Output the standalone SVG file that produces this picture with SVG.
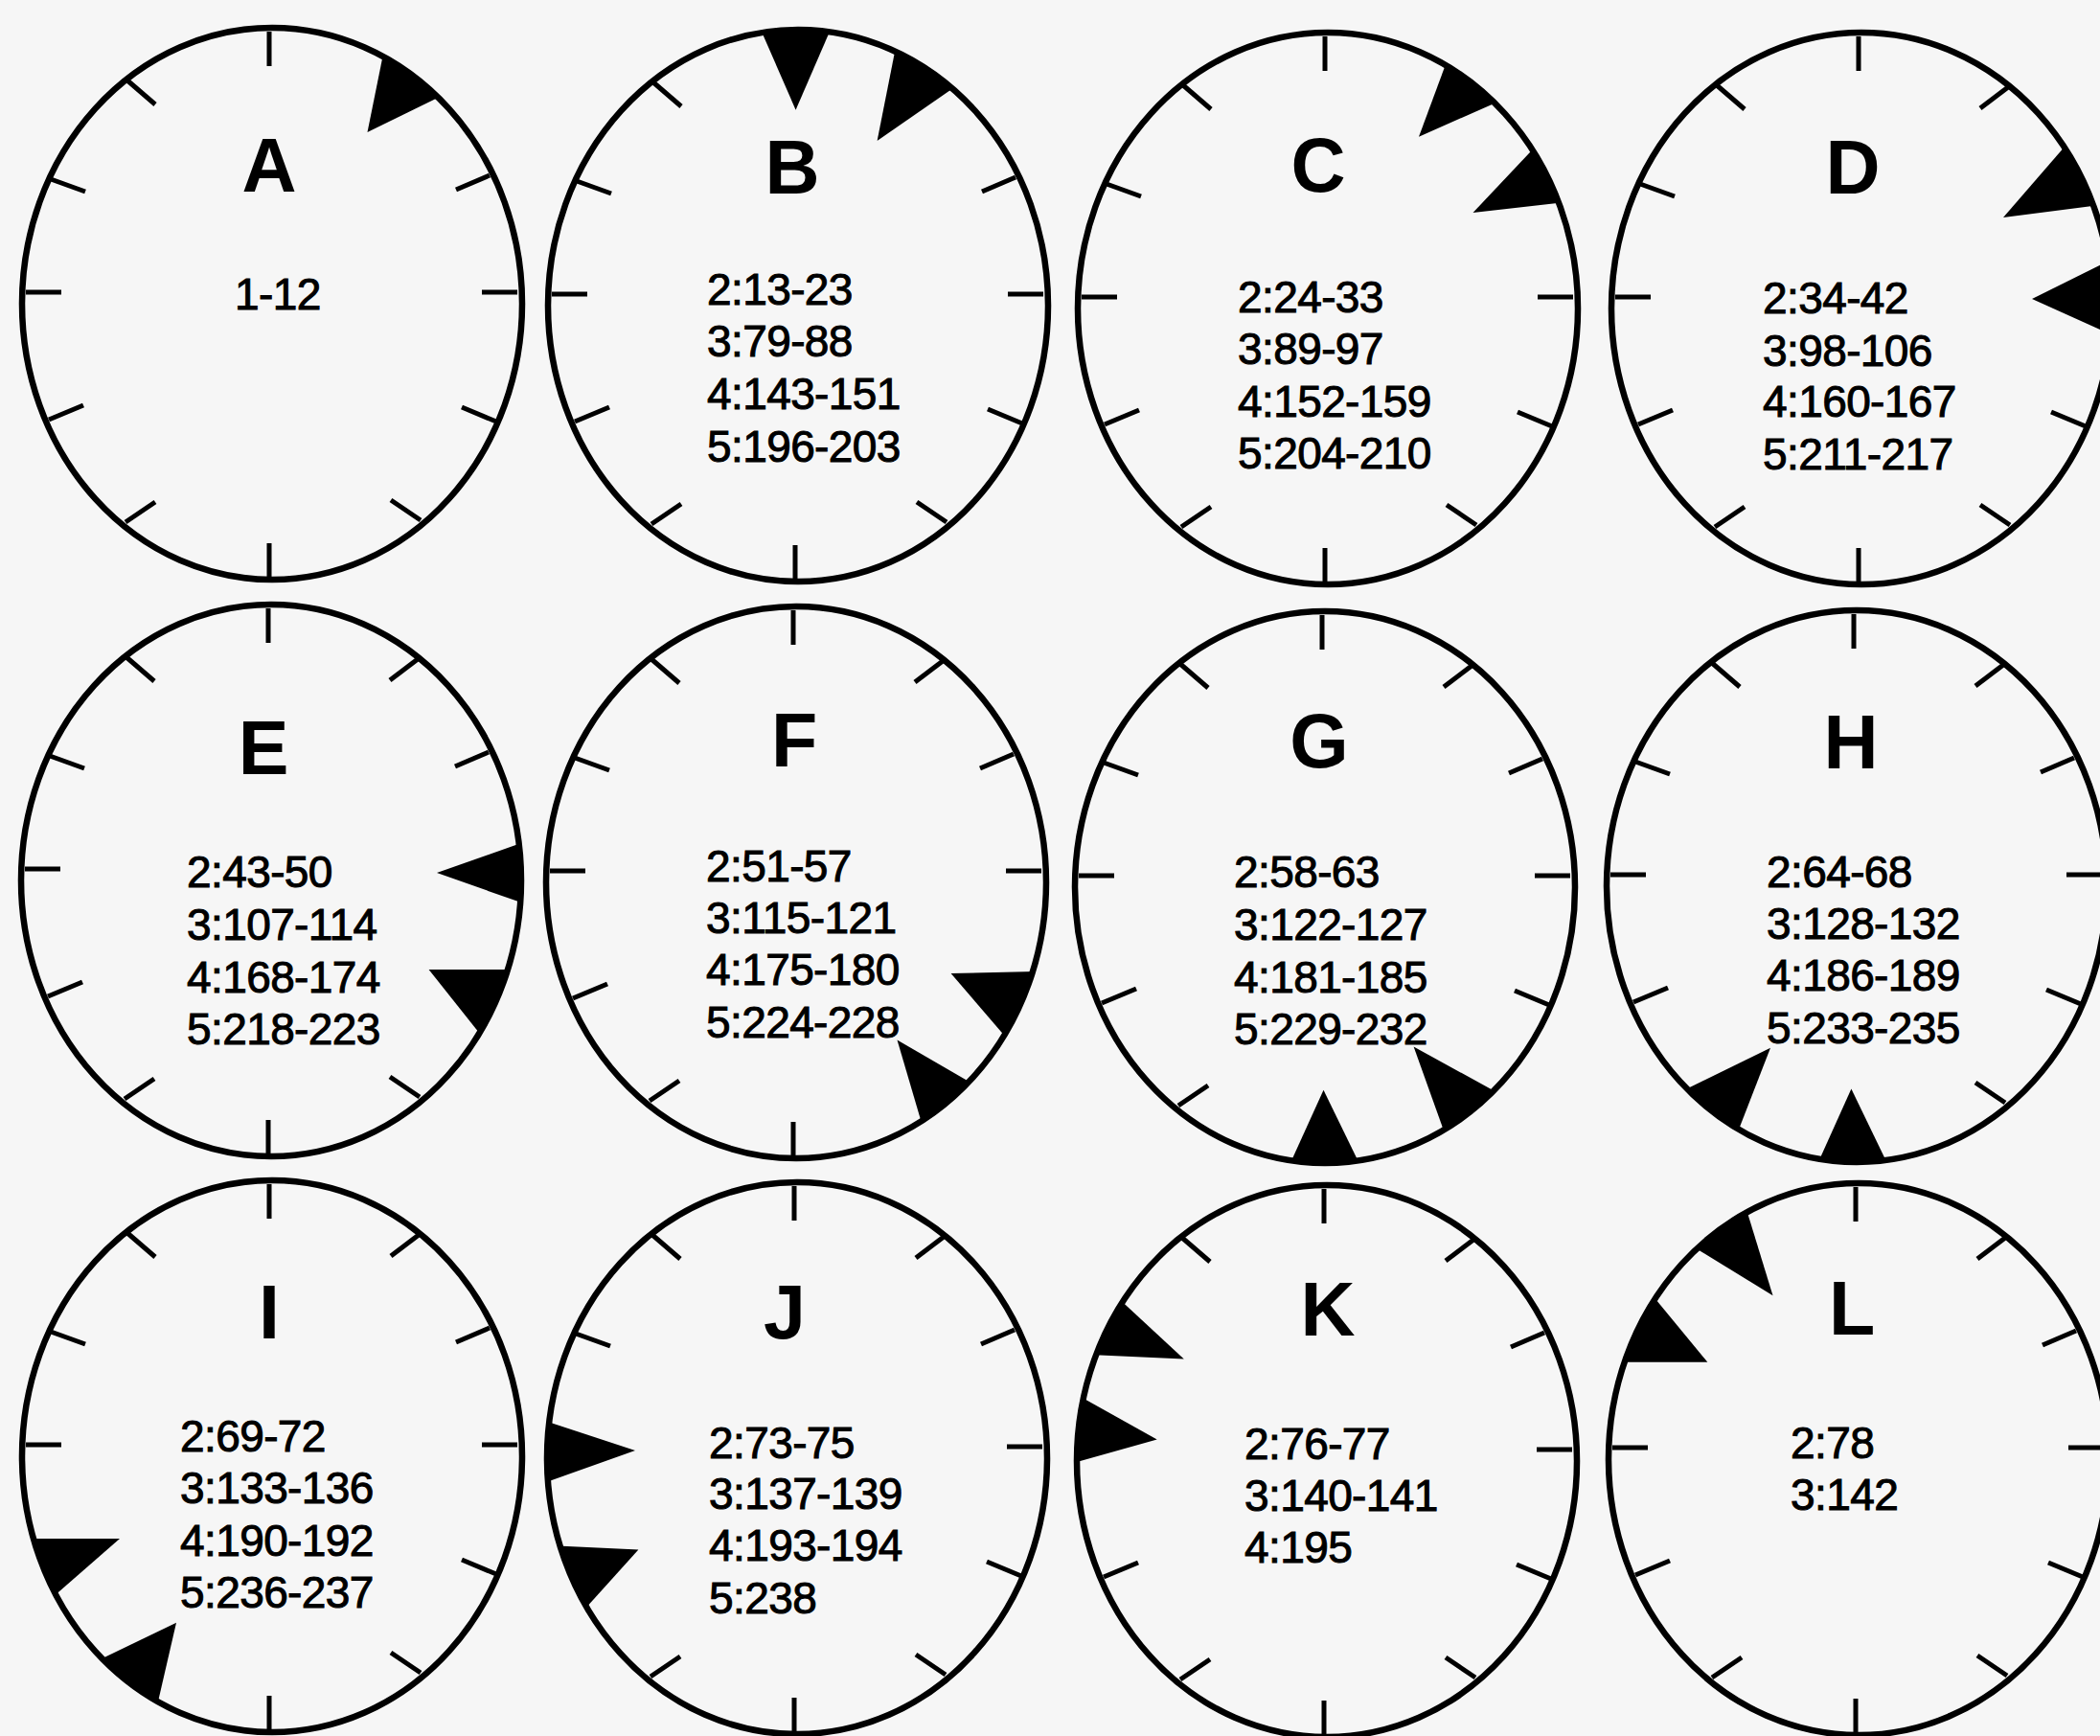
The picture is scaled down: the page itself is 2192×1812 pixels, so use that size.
<svg xmlns="http://www.w3.org/2000/svg" xmlns:xlink="http://www.w3.org/1999/xlink" width="2192" height="1812" viewBox="0 0 2192 1812">
<style>
.face{fill:none;stroke:#000;stroke-width:6.5}
.tick{fill:none;stroke:#000;stroke-width:5}
.wedge{fill:#000}
.letter{font-family:"Liberation Sans",Arial,sans-serif;font-weight:bold;font-size:79px;fill:#000;text-anchor:middle}
.num{font-family:"Liberation Sans",Arial,sans-serif;font-size:46px;letter-spacing:-0.6px;fill:#000;stroke:#000;stroke-width:1}
</style>
<defs>
<clipPath id="face-clip"><ellipse cx="0" cy="0" rx="261" ry="288"/></clipPath>
<path id="t12" class="tick" d="M-3,-284 V-248"/>
<path id="t1" class="tick" d="M153,-231 L124,-209"/>
<path id="t2" class="tick" d="M227,-134 L192,-119"/>
<path id="t3" class="tick" d="M256,-12 H219"/>
<path id="t4" class="tick" d="M234,123 L198,108"/>
<path id="t5" class="tick" d="M155,226 L124,205"/>
<path id="t6" class="tick" d="M-3,285 V250"/>
<path id="t7" class="tick" d="M-153,228 L-122,207"/>
<path id="t8" class="tick" d="M-233,121 L-197,106"/>
<path id="t9" class="tick" d="M-257,-12 H-220"/>
<path id="t10" class="tick" d="M-231,-130 L-195,-117"/>
<path id="t11" class="tick" d="M-151,-233 L-122,-208"/>
</defs>
<rect width="2192" height="1812" fill="#f6f6f6"/>

<g id="clock-A" transform="translate(284,317)">
<g clip-path="url(#face-clip)"><polygon class="wedge" points="119.7,-279.1 189.9,-223.2 99.5,-179"/></g>
<use href="#t12"/><use href="#t2"/><use href="#t3"/><use href="#t4"/><use href="#t5"/><use href="#t6"/><use href="#t7"/><use href="#t8"/><use href="#t9"/><use href="#t10"/><use href="#t11"/>
<ellipse class="face" rx="261" ry="288"/>
<text class="letter" x="-3" y="-117">A</text>
<text class="num" x="-39" y="6">1-12</text>
</g>

<g id="clock-B" transform="translate(833,319)">
<g clip-path="url(#face-clip)"><polygon class="wedge" points="-46.1,-304.5 41,-304.5 -2.4,-204.3"/><polygon class="wedge" points="105.7,-288.6 180.4,-239.7 82.6,-172"/></g>
<use href="#t2"/><use href="#t3"/><use href="#t4"/><use href="#t5"/><use href="#t6"/><use href="#t7"/><use href="#t8"/><use href="#t9"/><use href="#t10"/><use href="#t11"/>
<ellipse class="face" rx="261" ry="288"/>
<text class="letter" x="-6" y="-117">B</text>
<text class="num"><tspan x="-95" y="-1">2:13-23</tspan><tspan x="-95" y="53">3:79-88</tspan><tspan x="-95" y="108">4:143-151</tspan><tspan x="-95" y="163">5:196-203</tspan></text>
</g>

<g id="clock-C" transform="translate(1386,322)">
<g clip-path="url(#face-clip)"><polygon class="wedge" points="127.4,-266.7 191.2,-221.8 95,-179.2"/><polygon class="wedge" points="228.9,-181.9 265.3,-113 151.5,-100"/></g>
<use href="#t12"/><use href="#t3"/><use href="#t4"/><use href="#t5"/><use href="#t6"/><use href="#t7"/><use href="#t8"/><use href="#t9"/><use href="#t10"/><use href="#t11"/>
<ellipse class="face" rx="261" ry="288"/>
<text class="letter" x="-10" y="-122">C</text>
<text class="num"><tspan x="-94" y="4">2:24-33</tspan><tspan x="-94" y="58">3:89-97</tspan><tspan x="-94" y="113">4:152-159</tspan><tspan x="-94" y="167">5:204-210</tspan></text>
</g>

<g id="clock-D" transform="translate(1943,322)">
<g clip-path="url(#face-clip)"><polygon class="wedge" points="223.4,-182.1 263.7,-110 148,-95"/><polygon class="wedge" points="270.3,-55.8 270.3,31.6 178,-10"/></g>
<use href="#t12"/><use href="#t1"/><use href="#t4"/><use href="#t5"/><use href="#t6"/><use href="#t7"/><use href="#t8"/><use href="#t9"/><use href="#t10"/><use href="#t11"/>
<ellipse class="face" rx="261" ry="288"/>
<text class="letter" x="-9" y="-120">D</text>
<text class="num"><tspan x="-103" y="5">2:34-42</tspan><tspan x="-103" y="60">3:98-106</tspan><tspan x="-103" y="113">4:160-167</tspan><tspan x="-103" y="168">5:211-217</tspan></text>
</g>

<g id="clock-E" transform="translate(283,919)">
<g clip-path="url(#face-clip)"><polygon class="wedge" points="282.2,-46.4 282.2,30.6 173,-8"/><polygon class="wedge" points="164.6,93 271.2,93 230.1,175.3"/></g>
<use href="#t12"/><use href="#t1"/><use href="#t2"/><use href="#t5"/><use href="#t6"/><use href="#t7"/><use href="#t8"/><use href="#t9"/><use href="#t10"/><use href="#t11"/>
<ellipse class="face" rx="261" ry="288"/>
<text class="letter" x="-8" y="-111">E</text>
<text class="num"><tspan x="-88" y="7">2:43-50</tspan><tspan x="-88" y="62">3:107-114</tspan><tspan x="-88" y="117">4:168-174</tspan><tspan x="-88" y="171">5:218-223</tspan></text>
</g>

<g id="clock-F" transform="translate(831,921)">
<g clip-path="url(#face-clip)"><polygon class="wedge" points="161.6,95 271.1,92.4 229.7,174.3"/><polygon class="wedge" points="105.5,164.5 201.1,219.8 137.4,273.1"/></g>
<use href="#t12"/><use href="#t1"/><use href="#t2"/><use href="#t3"/><use href="#t6"/><use href="#t7"/><use href="#t8"/><use href="#t9"/><use href="#t10"/><use href="#t11"/>
<ellipse class="face" rx="261" ry="288"/>
<text class="letter" x="-2" y="-121">F</text>
<text class="num"><tspan x="-94" y="-1">2:51-57</tspan><tspan x="-94" y="53">3:115-121</tspan><tspan x="-94" y="107">4:175-180</tspan><tspan x="-94" y="162">5:224-228</tspan></text>
</g>

<g id="clock-G" transform="translate(1383,926)">
<g clip-path="url(#face-clip)"><polygon class="wedge" points="-41.2,299.2 41.1,299.2 -1.5,211.8"/><polygon class="wedge" points="92.6,166.4 195.4,223.1 131.2,274.3"/></g>
<use href="#t12"/><use href="#t1"/><use href="#t2"/><use href="#t3"/><use href="#t4"/><use href="#t7"/><use href="#t8"/><use href="#t9"/><use href="#t10"/><use href="#t11"/>
<ellipse class="face" rx="261" ry="288"/>
<text class="letter" x="-6" y="-125">G</text>
<text class="num"><tspan x="-95" y="0">2:58-63</tspan><tspan x="-95" y="55">3:122-127</tspan><tspan x="-95" y="110">4:181-185</tspan><tspan x="-95" y="164">5:229-232</tspan></text>
</g>

<g id="clock-H" transform="translate(1938,925)">
<g clip-path="url(#face-clip)"><polygon class="wedge" points="-90,168.7 -192.7,219 -129,269.2"/><polygon class="wedge" points="-45.1,299.3 36.8,299.3 -5.6,211.5"/></g>
<use href="#t12"/><use href="#t1"/><use href="#t2"/><use href="#t3"/><use href="#t4"/><use href="#t5"/><use href="#t8"/><use href="#t9"/><use href="#t10"/><use href="#t11"/>
<ellipse class="face" rx="261" ry="288"/>
<text class="letter" x="-6" y="-123">H</text>
<text class="num"><tspan x="-94" y="1">2:64-68</tspan><tspan x="-94" y="55">3:128-132</tspan><tspan x="-94" y="109">4:186-189</tspan><tspan x="-94" y="164">5:233-235</tspan></text>
</g>

<g id="clock-I" transform="translate(284,1520)">
<g clip-path="url(#face-clip)"><polygon class="wedge" points="-159,86 -270.8,86 -240.3,156.9"/><polygon class="wedge" points="-100,173.7 -194.9,219.6 -123.4,275.2"/></g>
<use href="#t12"/><use href="#t1"/><use href="#t2"/><use href="#t3"/><use href="#t4"/><use href="#t5"/><use href="#t6"/><use href="#t9"/><use href="#t10"/><use href="#t11"/>
<ellipse class="face" rx="261" ry="288"/>
<text class="letter" x="-3" y="-123">I</text>
<text class="num"><tspan x="-96" y="-5">2:69-72</tspan><tspan x="-96" y="49">3:133-136</tspan><tspan x="-96" y="104">4:190-192</tspan><tspan x="-96" y="158">5:236-237</tspan></text>
</g>

<g id="clock-J" transform="translate(832,1522)">
<g clip-path="url(#face-clip)"><polygon class="wedge" points="-283.4,-45.7 -283.4,32.8 -169,-8"/><polygon class="wedge" points="-165.6,95.6 -270.5,90.5 -229.4,166.3"/></g>
<use href="#t12"/><use href="#t1"/><use href="#t2"/><use href="#t3"/><use href="#t4"/><use href="#t5"/><use href="#t6"/><use href="#t7"/><use href="#t10"/><use href="#t11"/>
<ellipse class="face" rx="261" ry="288"/>
<text class="letter" x="-13" y="-125">J</text>
<text class="num"><tspan x="-92" y="0">2:73-75</tspan><tspan x="-92" y="53">3:137-139</tspan><tspan x="-92" y="107">4:193-194</tspan><tspan x="-92" y="162">5:238</tspan></text>
</g>

<g id="clock-K" transform="translate(1385,1525)">
<g clip-path="url(#face-clip)"><polygon class="wedge" points="-231.2,-182.6 -258.7,-111.5 -149.2,-106.4"/><polygon class="wedge" points="-277.5,-78.4 -277.5,5.5 -177.3,-22.5"/></g>
<use href="#t12"/><use href="#t1"/><use href="#t2"/><use href="#t3"/><use href="#t4"/><use href="#t5"/><use href="#t6"/><use href="#t7"/><use href="#t8"/><use href="#t11"/>
<ellipse class="face" rx="261" ry="288"/>
<text class="letter" x="1" y="-131">K</text>
<text class="num"><tspan x="-86" y="-2">2:76-77</tspan><tspan x="-86" y="52">3:140-141</tspan><tspan x="-86" y="106">4:195</tspan></text>
</g>

<g id="clock-L" transform="translate(1940,1523)">
<g clip-path="url(#face-clip)"><polygon class="wedge" points="-180.5,-226.6 -121.4,-274.8 -89.5,-170.8"/><polygon class="wedge" points="-221.8,-178.9 -260.8,-101.3 -157.7,-101.3"/></g>
<use href="#t12"/><use href="#t1"/><use href="#t2"/><use href="#t3"/><use href="#t4"/><use href="#t5"/><use href="#t6"/><use href="#t7"/><use href="#t8"/><use href="#t9"/>
<ellipse class="face" rx="261" ry="288"/>
<text class="letter" x="-7" y="-130">L</text>
<text class="num"><tspan x="-71" y="-1">2:78</tspan><tspan x="-71" y="53">3:142</tspan></text>
</g>
</svg>
